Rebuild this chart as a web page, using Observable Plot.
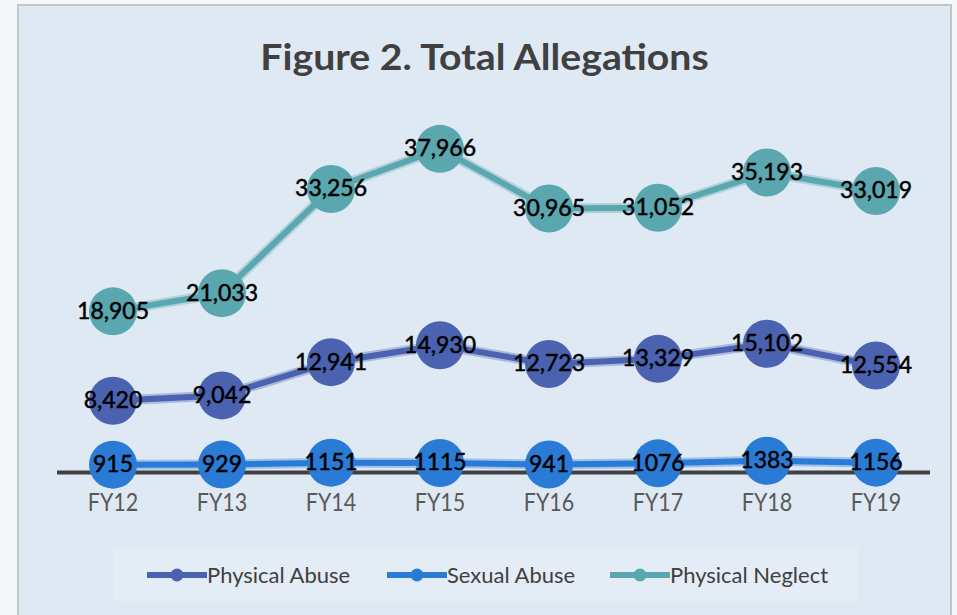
<!DOCTYPE html>
<html>
<head>
<meta charset="utf-8">
<script src="https://cdn.jsdelivr.net/npm/d3@7"></script>
<script src="https://cdn.jsdelivr.net/npm/@observablehq/plot@0.6"></script>
<style>
  html, body { margin: 0; padding: 0; background: #f5f7f9; width: 957px; height: 615px; overflow: hidden; }
  #frame { position: absolute; left: 17px; top: 4px; width: 931px; height: 640px; background: #dfe9f4; border: 2px solid #c3c6c9; }
  #title { position: absolute; left: 6px; top: 33px; width: 957px; text-align: center; font-family: Lato, sans-serif; font-weight: bold; font-size: 37px; color: #404040; }
  #title span { display: inline-block; transform: scaleX(1.06); }
  #chart { position: absolute; left: 0; top: 100px; }
  #chart svg { overflow: visible; }
  #legend { position: absolute; left: 113px; top: 548px; width: 745px; height: 53px; background: #e4ecf5; font-family: Lato, sans-serif; font-size: 22px; color: #404040; }
  .item { position: absolute; top: 13px; display: flex; align-items: center; }
</style>
</head>
<body>
<div id="frame"></div>
<div id="title"><span>Figure 2. Total Allegations</span></div>
<div id="chart"></div>
<div id="legend"></div>
<script>
const years = ["FY12", "FY13", "FY14", "FY15", "FY16", "FY17", "FY18", "FY19"];
const physicalAbuse = [8420, 9042, 12941, 14930, 12723, 13329, 15102, 12554];
const sexualAbuse = [915, 929, 1151, 1115, 941, 1076, 1383, 1156];
const physicalNeglect = [18905, 21033, 33256, 37966, 30965, 31052, 35193, 33019];
const seriesNames = ["Physical Abuse", "Sexual Abuse", "Physical Neglect"];
const seriesColors = ["#4a62b0", "#2a7bd6", "#5aa7b0"];
const labelFormat = [",", "", ","];

const seriesValues = [physicalAbuse, sexualAbuse, physicalNeglect];
const data = [];
seriesNames.forEach((s, si) => years.forEach((y, i) => data.push({series: s, si, year: y, value: seriesValues[si][i],
  label: labelFormat[si] === "," ? d3.format(",")(seriesValues[si][i]) : String(seriesValues[si][i])})));

const plot = Plot.plot({
  width: 957,
  height: 440,
  marginLeft: 57,
  marginRight: 27,
  marginTop: 31,
  marginBottom: 68,
  style: {background: "transparent", overflow: "visible"},
  x: {type: "band", domain: years, padding: 0, axis: null},
  y: {domain: [0, 40000], axis: null},
  color: {domain: seriesNames, range: seriesColors},
  marks: [
    Plot.ruleY([0], {stroke: "#404040", strokeWidth: 4}),
    Plot.axisX({tickSize: 0, tickPadding: 21, fontSize: 25, fontFamily: "Lato, sans-serif", color: "#595959", className: "xt", label: null}),
    Plot.line(data, {x: "year", y: "value", z: "series", stroke: "series", strokeWidth: 10, strokeOpacity: 0.35, curve: "linear"}),
    Plot.line(data, {x: "year", y: "value", z: "series", stroke: "series", strokeWidth: 6, curve: "linear"}),
    Plot.dot(data, {x: "year", y: "value", fill: "series", r: 24, stroke: "none"}),
    Plot.text(data, {x: "year", y: "value", text: "label", fill: "#000", stroke: "#000", strokeWidth: 0.5, fontSize: 23, fontFamily: "Lato, sans-serif"})
  ]
});
document.getElementById("chart").appendChild(plot);
// condense the tick labels horizontally, keeping their positions
d3.select(plot).selectAll(".xt text").each(function() {
  const t = this.getAttribute("transform") || "";
  this.setAttribute("transform", t + " scale(0.86,1)");
});

const legend = document.getElementById("legend");
const legendX = [34, 274, 497];
seriesNames.forEach((s, i) => {
  const div = document.createElement("div");
  div.className = "item";
  div.style.left = legendX[i] + "px";
  div.innerHTML = `<svg width="60" height="26"><line x1="1" x2="59" y1="13" y2="13" stroke="${seriesColors[i]}" stroke-width="6" stroke-linecap="round"/><circle cx="30" cy="13" r="6.5" fill="${seriesColors[i]}"/></svg><span>${s}</span>`;
  legend.appendChild(div);
});
</script>
</body>
</html>
